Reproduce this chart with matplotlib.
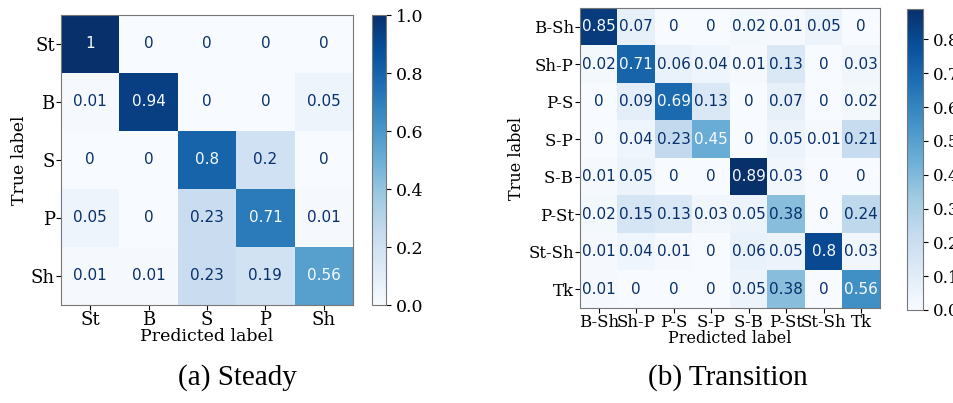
import numpy as np
import matplotlib.pyplot as plt

# steady-state classes
steady_labels = ["St", "B", "S", "P", "Sh"]
steady_cm = np.array([
    [1.00, 0.00, 0.00, 0.00, 0.00],
    [0.01, 0.94, 0.00, 0.00, 0.05],
    [0.00, 0.00, 0.80, 0.20, 0.00],
    [0.05, 0.00, 0.23, 0.71, 0.01],
    [0.01, 0.01, 0.23, 0.19, 0.56],
])

# transition classes
trans_labels = ["B-Sh", "Sh-P", "P-S", "S-P", "S-B", "P-St", "St-Sh", "Tk"]
trans_cm = np.array([
    [0.85, 0.07, 0.00, 0.00, 0.02, 0.01, 0.05, 0.00],
    [0.02, 0.71, 0.06, 0.04, 0.01, 0.13, 0.00, 0.03],
    [0.00, 0.09, 0.69, 0.13, 0.00, 0.07, 0.00, 0.02],
    [0.00, 0.04, 0.23, 0.45, 0.00, 0.05, 0.01, 0.21],
    [0.01, 0.05, 0.00, 0.00, 0.89, 0.03, 0.00, 0.00],
    [0.02, 0.15, 0.13, 0.03, 0.05, 0.38, 0.00, 0.24],
    [0.01, 0.04, 0.01, 0.00, 0.06, 0.05, 0.80, 0.03],
    [0.01, 0.00, 0.00, 0.00, 0.05, 0.38, 0.00, 0.56],
])

captions = ["(a) Steady", "(b) Transition"]

W, H = 954, 403
cmap = plt.get_cmap("Blues")


def box(x0, y0, x1, y1):
    # pixel box (top-left origin) -> figure fraction rect
    return [x0 / W, 1 - y1 / H, (x1 - x0) / W, (y1 - y0) / H]


def fmt(v):
    return f"{v:.2g}"


def draw_cm(fig, cm, labels, ax_rect, cb_rect, cb_ticks, label_fs, cell_fs, cb_fs):
    ax = fig.add_axes(ax_rect)
    cax = fig.add_axes(cb_rect)
    im = ax.imshow(cm, cmap=cmap, vmin=0, vmax=cm.max(), aspect="auto",
                   interpolation="nearest")
    thresh = (cm.max() + cm.min()) / 2
    n = len(labels)
    for i in range(n):
        for j in range(n):
            color = cmap(0.0) if cm[i, j] > thresh else cmap(1.0)
            ax.text(j, i, fmt(cm[i, j]), ha="center", va="center",
                    color=color, fontsize=cell_fs, family="DejaVu Sans")
    ax.set_xticks(range(n))
    ax.set_yticks(range(n))
    ax.set_xticklabels(labels, family="DejaVu Serif", fontsize=label_fs)
    ax.set_yticklabels(labels, family="DejaVu Serif", fontsize=label_fs)
    ax.tick_params(pad=1)
    ax.set_xlabel("Predicted label", family="DejaVu Serif", fontsize=label_fs - 0.5,
                  labelpad=-1)
    ax.set_ylabel("True label", family="DejaVu Serif", fontsize=label_fs - 0.5,
                  labelpad=2)
    for s in ax.spines.values():
        s.set_color("#777777")
    cb = fig.colorbar(im, cax=cax, ticks=cb_ticks)
    cb.ax.tick_params(labelsize=cb_fs)
    for t in cb.ax.get_yticklabels():
        t.set_family("DejaVu Serif")
    cb.outline.set_edgecolor("#777777")
    return ax


fig = plt.figure(figsize=(W / 100, H / 100), dpi=100)

draw_cm(fig, steady_cm, steady_labels, box(61, 15, 353, 305),
        box(372, 15, 386, 305), np.arange(0, 1.01, 0.2), 13, 11, 12.5)
draw_cm(fig, trans_cm, trans_labels, box(580, 8, 880, 308),
        box(907, 9, 923, 310), np.arange(0, 0.81, 0.1), 12, 11, 12)

fig.text(237 / W, 1 - 378 / H, captions[0], ha="center", va="center",
         family="Liberation Serif", fontsize=21)
fig.text(728 / W, 1 - 378 / H, captions[1], ha="center", va="center",
         family="Liberation Serif", fontsize=21)

fig.savefig("out.png", dpi=100)
